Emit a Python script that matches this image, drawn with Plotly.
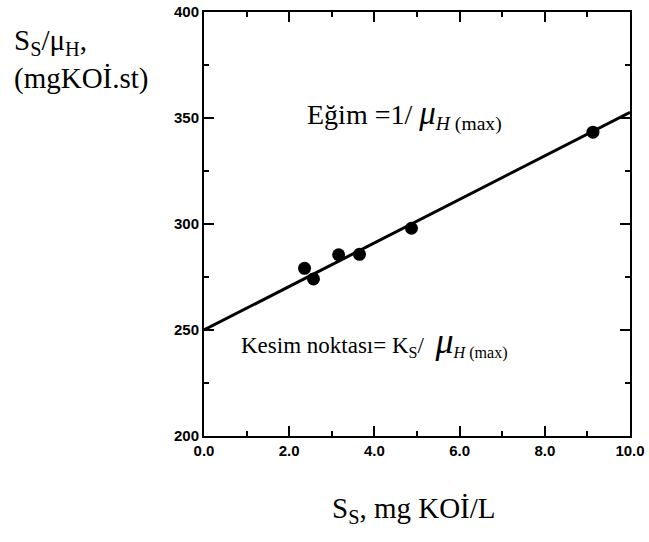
import plotly.graph_objects as go

# Data
ss = [2.36, 2.57, 3.16, 3.65, 4.87, 9.13]
ratio = [279.1, 274.1, 285.5, 285.7, 298.0, 343.3]
fit_x = [0.0, 10.0]
fit_y = [250.0, 352.7]

x_ticks = [0, 2, 4, 6, 8, 10]
x_ticklabels = ["0.0", "2.0", "4.0", "6.0", "8.0", "10.0"]
y_ticks = [200, 250, 300, 350, 400]
y_ticklabels = ["200", "250", "300", "350", "400"]

W, H = 649, 542
L, R, T, B = 204, 19, 12, 106
pw, ph = W - L - R, H - T - B

def px(xp):
    return (xp - L) / pw

def py(yp):
    return (H - B - yp) / ph

fig = go.Figure()
fig.add_trace(go.Scatter(x=fit_x, y=fit_y, mode="lines",
                         line=dict(color="black", width=3), showlegend=False))
fig.add_trace(go.Scatter(x=ss, y=ratio, mode="markers",
                         marker=dict(color="black", size=13), showlegend=False))

serif = "Liberation Serif"
tickfont = dict(family="Liberation Sans, Arial, sans-serif", size=15, color="black", weight="bold")

axis_common = dict(showgrid=False, zeroline=False, showline=True, linecolor="black",
                   linewidth=2, ticks="inside", ticklen=10, tickwidth=2, tickcolor="black",
                   mirror="ticks", tickfont=tickfont, automargin=False)

fig.update_xaxes(range=[0, 10], tickvals=x_ticks, ticktext=x_ticklabels,
                 minor=dict(ticks="inside", ticklen=5, tickwidth=2, tickcolor="black", dtick=1),
                 **axis_common)
fig.update_yaxes(range=[200, 400], tickvals=y_ticks, ticktext=y_ticklabels,
                 minor=dict(ticks="inside", ticklen=5, tickwidth=2, tickcolor="black", dtick=25),
                 **axis_common)

annotations = [
    dict(text="Eğim =1/ <span style='font-size:33px'><i>μ</i></span><sub><i>H</i> (max)</sub>",
         xref="paper", yref="paper", x=px(305), y=py(115), xanchor="left", yanchor="middle",
         showarrow=False, font=dict(family=serif, size=28, color="black")),
    dict(text="<span style='font-family:Liberation Serif'>Kesim noktası= K</span><sub>S</sub>/  "
              "<span style='font-size:36px'><i>μ</i></span><sub><i>H</i> (max)</sub>",
         xref="paper", yref="paper", x=px(239), y=py(341), xanchor="left", yanchor="middle",
         showarrow=False, font=dict(family=serif, size=23, color="black")),
    dict(text="S<sub>S</sub>/μ<sub>H</sub>,<br>(mgKOİ.st)",
         xref="paper", yref="paper", x=px(12), y=py(60), xanchor="left", yanchor="middle",
         align="left", showarrow=False, font=dict(family=serif, size=29, color="black")),
    dict(text="S<sub>S</sub>, mg KOİ/L",
         xref="paper", yref="paper", x=px(414), y=py(510), xanchor="center", yanchor="middle",
         showarrow=False, font=dict(family=serif, size=29, color="black")),
]

fig.update_layout(width=W, height=H, margin=dict(l=L, r=R, t=T, b=B),
                  paper_bgcolor="white", plot_bgcolor="white",
                  annotations=annotations, showlegend=False)

fig.write_html("out.html")
